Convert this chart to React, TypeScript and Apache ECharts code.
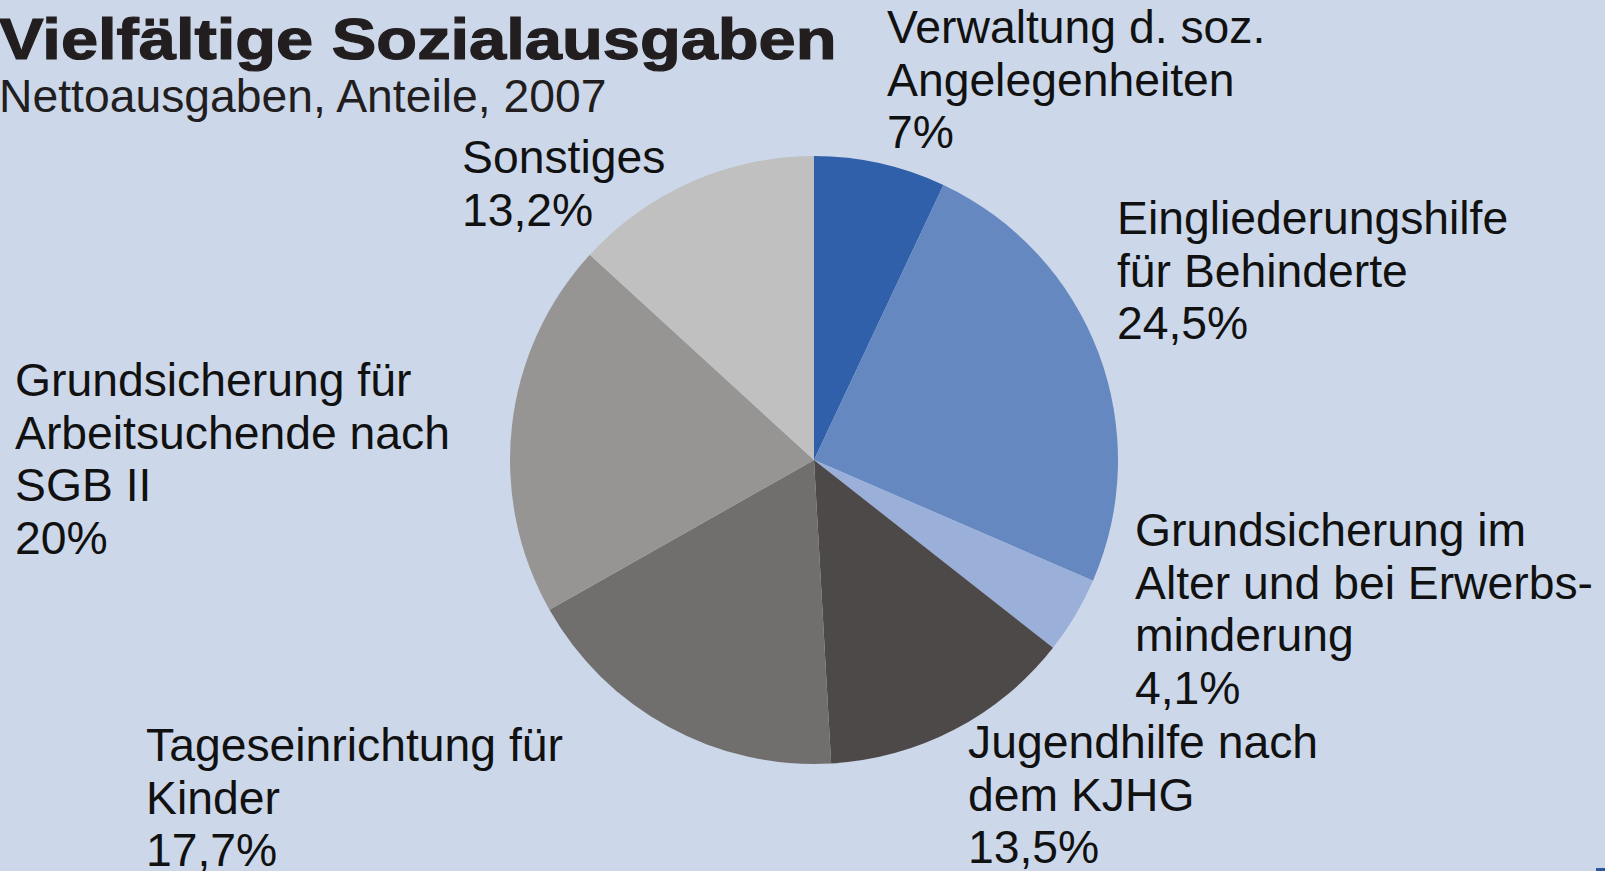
import React, { useEffect, useRef } from "react";
import * as echarts from "echarts";

const titleText = "Vielfältige Sozialausgaben";
const subtitleText = "Nettoausgaben, Anteile, 2007";

const categories = [
  "Verwaltung d. soz.\nAngelegenheiten",
  "Eingliederungshilfe\nfür Behinderte",
  "Grundsicherung im\nAlter und bei Erwerbs-\nminderung",
  "Jugendhilfe nach\ndem KJHG",
  "Tageseinrichtung für\nKinder",
  "Grundsicherung für\nArbeitsuchende nach\nSGB II",
  "Sonstiges",
];
const values = [7, 24.5, 4.1, 13.5, 17.7, 20, 13.2];

const sliceColors = ["#3160AA", "#6688C0", "#9BB0D8", "#4D4948", "#706F6D", "#969594", "#C0C0C0"];
// label anchors: left x, first-line center y
const labelAnchors = [
  [887, 27],
  [1117, 218],
  [1135, 530],
  [968, 742],
  [146, 745],
  [15, 380],
  [462, 157],
];

const FONT = "'Liberation Sans', Arial, Helvetica, sans-serif";
const LABEL_SIZE = 46.3;
const LINE_H = 52.5;
const BG = "#CCD8E9";
const TEXT = "#111111";

export default function App() {
  const ref = useRef<HTMLDivElement>(null);
  useEffect(() => {
    if (!ref.current) return;
    const chart = echarts.init(ref.current, null, { renderer: "svg" });
    chart.setOption({
      animation: false,
      backgroundColor: BG,
      graphic: [
        {
          type: "text",
          x: -1,
          y: 39,
          scaleX: 1.172,
          style: {
            text: titleText,
            fontFamily: FONT,
            fontWeight: "bold",
            fontSize: 57,
            fill: "#221E1F",
            stroke: "#221E1F",
            lineWidth: 1.2,
            verticalAlign: "middle",
            align: "left",
          },
        },
        {
          type: "text",
          x: -1,
          y: 96,
          style: {
            text: subtitleText,
            fontFamily: FONT,
            fontSize: 46.3,
            fill: "#221E1F",
            verticalAlign: "middle",
            align: "left",
          },
        },
        {
          type: "rect",
          shape: { x: 1596, y: 868, width: 9, height: 3 },
          style: { fill: "#2F54A0" },
        },
      ],
      series: [
        {
          type: "pie",
          center: [814, 460],
          radius: 304,
          startAngle: 90,
          clockwise: true,
          avoidLabelOverlap: false,
          label: {
            show: true,
            position: "outside",
            color: TEXT,
            fontFamily: FONT,
            fontSize: LABEL_SIZE,
            lineHeight: LINE_H,
            align: "left",
            formatter: (p: any) => p.name + "\n" + String(p.value).replace(".", ",") + "%",
          },
          labelLine: { show: false },
          labelLayout: (params: any) => {
            const a = labelAnchors[params.dataIndex];
            return { x: a[0], y: a[1] - LINE_H / 2, align: "left", verticalAlign: "top" };
          },
          emphasis: { disabled: true },
          data: categories.map((name, i) => ({
            name,
            value: values[i],
            itemStyle: { color: sliceColors[i] },
          })),
        },
      ],
    });
    return () => chart.dispose();
  }, []);
  return (
    <div
      ref={ref}
      style={{ position: "absolute", left: 0, top: 0, width: 1605, height: 871 }}
    />
  );
}
